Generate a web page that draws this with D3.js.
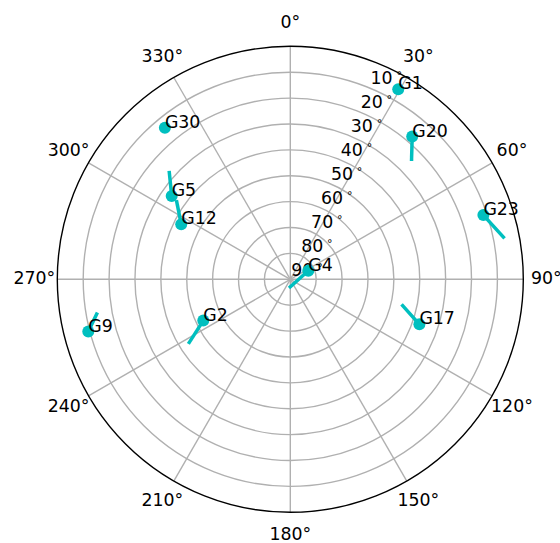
<!DOCTYPE html>
<html><head><meta charset="utf-8">
<script src="https://cdn.jsdelivr.net/npm/d3@7"></script>
<style>body{margin:0;background:#fff}svg{display:block}text{font-family:"DejaVu Sans",sans-serif}</style>
</head><body><svg id="c" width="560" height="543"></svg>
<script>
// Data
const sats   = ['G1','G20','G4','G30','G5','G12','G9','G2','G23','G17'];
const az     = [29.6, 40.5, 64.5, 320.4, 305.1, 296.8, 255.5, 244.6, 71.6, 109.2];
const el     = [5.6, 17.5, 82.3, 14.0, 34.0, 42.8, 9.4, 52.8, 11.4, 37.2];
const tailAz = [29.6, 45.3, 180.0, 320.4, 311.4, 304.3, 259.8, 238.0, 78.8, 103.2];
const tailEl = [5.6, 24.1, 87.1, 14.0, 27.7, 36.9, 14.0, 44.0, 6.1, 45.4];
const thetaTicks = [0,30,60,90,120,150,180,210,240,270,300,330];
const ringTicks = [10,20,30,40,50,60,70,80];
const rLabelTicks = [10,20,30,40,50,60,70,80,90];

const svg = d3.select('#c');
const cx = 290.3, cy = 279.3, R = 233;
const rScale = d3.scaleLinear().domain([90,0]).range([0,R]);
const rad = d => d*Math.PI/180;
const px = (a,r) => cx + r*Math.sin(rad(a));
const py = (a,r) => cy - r*Math.cos(rad(a));
const g = svg.append('g');
const grid = '#b0b0b0', gw = 1.39;

// spokes
g.selectAll('line.spoke').data(thetaTicks).join('line')
  .attr('x1',cx).attr('y1',cy)
  .attr('x2',d=>px(d,R)).attr('y2',d=>py(d,R))
  .attr('stroke',grid).attr('stroke-width',gw);
// rings
g.selectAll('circle.ring').data(ringTicks).join('circle')
  .attr('cx',cx).attr('cy',cy).attr('r',d=>rScale(d))
  .attr('fill','none').attr('stroke',grid).attr('stroke-width',gw);
// outer spine
g.append('circle').attr('cx',cx).attr('cy',cy).attr('r',rScale(0))
  .attr('fill','none').attr('stroke','#000').attr('stroke-width',1.39);

// theta labels
g.selectAll('text.th').data(thetaTicks).join('text')
  .attr('x',d=>px(d,256)).attr('y',d=>py(d,256)+4.8)
  .attr('text-anchor','middle').attr('font-size',17.36).attr('fill','#000')
  .text(d=>d+'°');

// radial labels at 22.5°
const la = 22.5;
g.selectAll('text.rl').data(rLabelTicks).join('text')
  .attr('x',d=>px(la,rScale(d))+1).attr('y',d=>py(la,rScale(d))-3.5)
  .attr('font-size',17.36).attr('fill','#000').text(d=>d);
g.selectAll('text.rd').data(rLabelTicks).join('text')
  .attr('x',d=>px(la,rScale(d))+26.9).attr('y',d=>py(la,rScale(d))-8.5)
  .attr('font-size',11).attr('fill','#000').text('°');

// tails
const col = '#00bfbf';
const line = d3.lineRadial().angle(d=>rad(d[0])).radius(d=>rScale(d[1]));
const dg = svg.append('g').attr('transform',`translate(${cx},${cy})`);
dg.selectAll('path.tail').data(sats.map((s,i)=>[[az[i],el[i]],[tailAz[i],tailEl[i]]])).join('path')
  .attr('d',line).attr('fill','none').attr('stroke',col).attr('stroke-width',3.5)
  .attr('stroke-linecap','square');
// dots
svg.selectAll('circle.sat').data(sats).join('circle')
  .attr('cx',(d,i)=>px(az[i],rScale(el[i]))).attr('cy',(d,i)=>py(az[i],rScale(el[i])))
  .attr('r',6).attr('fill',col);
// names
svg.selectAll('text.sat').data(sats).join('text')
  .attr('x',(d,i)=>px(az[i],rScale(el[i]))).attr('y',(d,i)=>py(az[i],rScale(el[i])))
  .attr('font-size',17.36).attr('fill','#000').text(d=>d);
</script></body></html>
